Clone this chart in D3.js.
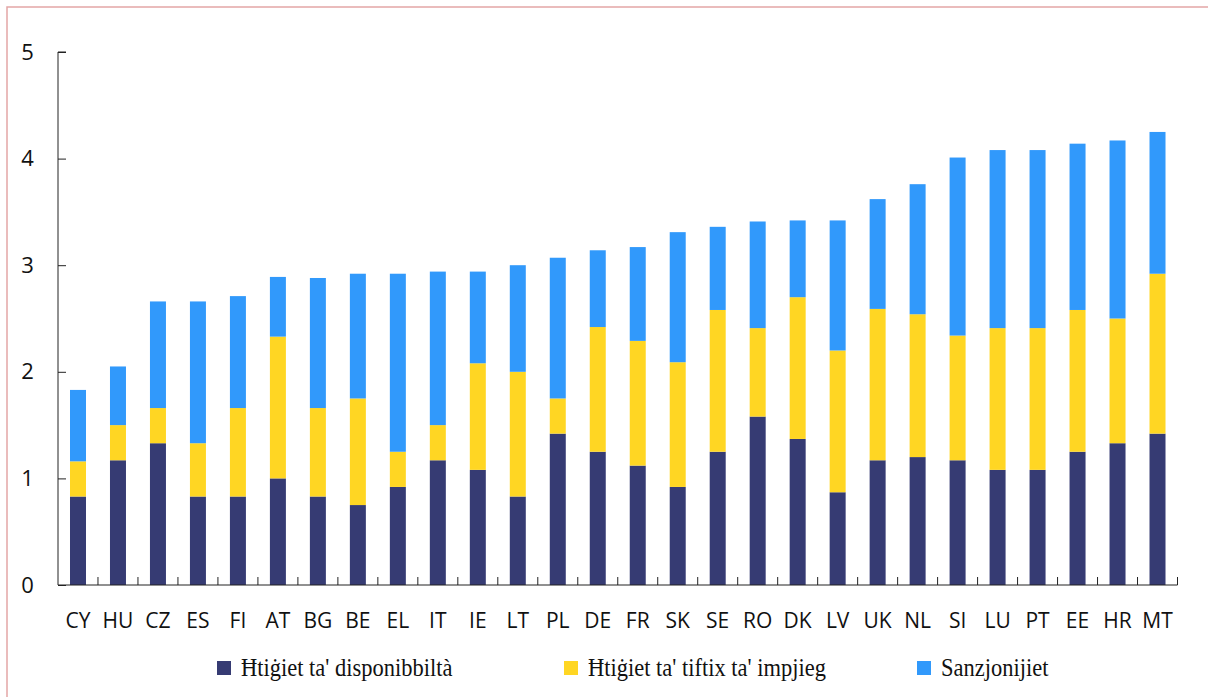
<!DOCTYPE html>
<html>
<head>
<meta charset="utf-8">
<script src="https://cdn.jsdelivr.net/npm/d3@7"></script>
<style>
  body { margin: 0; background: #fff; }
  svg { display: block; }
</style>
</head>
<body>
<div id="chart"></div>
<script>
// categories and series values
var countries = ["CY", "HU", "CZ", "ES", "FI", "AT", "BG", "BE", "EL", "IT", "IE", "LT", "PL", "DE",
  "FR", "SK", "SE", "RO", "DK", "LV", "UK", "NL", "SI", "LU", "PT", "EE", "HR", "MT"];
var availability = [0.83, 1.17, 1.33, 0.83, 0.83, 1.0, 0.83, 0.75, 0.92, 1.17, 1.08, 0.83, 1.42, 1.25,
  1.12, 0.92, 1.25, 1.58, 1.37, 0.87, 1.17, 1.2, 1.17, 1.08, 1.08, 1.25, 1.33, 1.42];
var jobSearch = [0.33, 0.33, 0.33, 0.5, 0.83, 1.33, 0.83, 1.0, 0.33, 0.33, 1.0, 1.17, 0.33, 1.17,
  1.17, 1.17, 1.33, 0.83, 1.33, 1.33, 1.42, 1.34, 1.17, 1.33, 1.33, 1.33, 1.17, 1.5];
var sanctions = [0.67, 0.55, 1.0, 1.33, 1.05, 0.56, 1.22, 1.17, 1.67, 1.44, 0.86, 1.0, 1.32, 0.72,
  0.88, 1.22, 0.78, 1.0, 0.72, 1.22, 1.03, 1.22, 1.67, 1.67, 1.67, 1.56, 1.67, 1.33];
var seriesNames = ["Ħtiġiet ta' disponibbiltà", "Ħtiġiet ta' tiftix ta' impjieg", "Sanzjonijiet"];
var seriesColors = ["#363b73", "#ffd623", "#3199fb"];
var yTicks = [0, 1, 2, 3, 4, 5];

function init() {
  var width = 1208, height = 697;
  var margin = { top: 52, right: 30, bottom: 112, left: 58 };
  var w = 1177.5 - margin.left;
  var h = 585 - margin.top;

  var svg = d3.select("#chart").append("svg")
    .attr("width", width).attr("height", height);

  // frame lines at left and top
  svg.append("path")
    .attr("d", "M7," + height + "V7H" + width)
    .attr("fill", "none")
    .attr("stroke", "#e3a6a6")
    .attr("stroke-width", 1.5);

  var g = svg.append("g")
    .attr("transform", "translate(" + margin.left + "," + margin.top + ")");

  var table = countries.map(function (c, i) {
    return { country: c, a: availability[i], b: jobSearch[i], c: sanctions[i] };
  });
  var stack = d3.stack().keys(["a", "b", "c"])(table);

  var xScale = d3.scaleBand().domain(countries).range([0, w]).paddingInner(0.6).paddingOuter(0.3);
  var yScale = d3.scaleLinear().domain([0, 5]).range([h, 0]);

  // bars
  g.selectAll("g.layer")
    .data(stack)
    .join("g")
    .attr("class", "layer")
    .attr("fill", function (d, i) { return seriesColors[i]; })
    .selectAll("rect")
    .data(function (d) { return d; })
    .join("rect")
    .attr("x", function (d) { return xScale(d.data.country); })
    .attr("width", xScale.bandwidth())
    .attr("y", function (d) { return yScale(d[1]); })
    .attr("height", function (d) { return yScale(d[0]) - yScale(d[1]); });

  // y axis
  var yAxis = d3.axisRight(yScale).tickValues(yTicks).tickSize(8).tickFormat(d3.format("d"));
  var yg = g.append("g").call(yAxis);
  yg.select(".domain").attr("stroke", "#222").attr("d", "M8,0H0V" + h);
  yg.selectAll(".tick line").attr("stroke", "#222");
  yg.selectAll(".tick text")
    .attr("x", -30.5)
    .attr("text-anchor", "middle")
    .style("font-family", "'Open Sans', sans-serif")
    .style("font-size", "22px")
    .attr("fill", "#111");

  // x axis: category ticks between bars, pointing up
  var step = xScale.step();
  var xb = g.append("g").attr("transform", "translate(0," + h + ")");
  xb.append("line").attr("x1", 0).attr("x2", w).attr("stroke", "#222");
  xb.selectAll("line.tk")
    .data(d3.range(1, countries.length + 1))
    .join("line")
    .attr("class", "tk")
    .attr("x1", function (d) { return xScale(countries[0]) - xScale.bandwidth() * 0.75 + d * step; })
    .attr("x2", function (d) { return xScale(countries[0]) - xScale.bandwidth() * 0.75 + d * step; })
    .attr("y1", 0).attr("y2", -8)
    .attr("stroke", "#222");
  xb.selectAll("text")
    .data(countries)
    .join("text")
    .attr("x", function (d) { return xScale(d) + xScale.bandwidth() / 2; })
    .attr("y", 43)
    .attr("text-anchor", "middle")
    .style("font-family", "'Open Sans', sans-serif")
    .style("font-size", "21px")
    .attr("fill", "#111")
    .text(function (d) { return d; });

  // legend
  var legendX = [217, 564, 917];
  var legend = svg.selectAll("g.legend")
    .data(seriesNames)
    .join("g")
    .attr("class", "legend")
    .attr("transform", function (d, i) { return "translate(" + legendX[i] + ",661)"; });
  legend.append("rect")
    .attr("width", 14).attr("height", 14)
    .attr("fill", function (d, i) { return seriesColors[i]; });
  legend.append("text")
    .attr("transform", "translate(24,15) scale(1,1.12)")
    .style("font-family", "'Liberation Serif', serif")
    .style("font-size", "22.5px")
    .attr("fill", "#111")
    .text(function (d) { return d; });
}

window.onload = init;
</script>
</body>
</html>
